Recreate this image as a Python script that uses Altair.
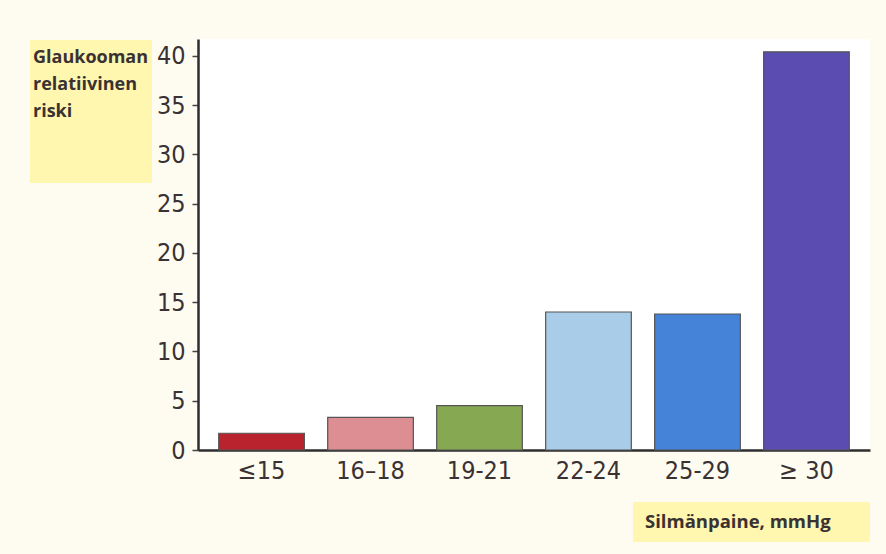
import altair as alt
import pandas as pd

categories = ["≤15", "16–18", "19-21", "22-24", "25-29", "≥ 30"]
values = [1.7, 3.3, 4.5, 14.0, 13.8, 40.4]
colors = ["#b8232e", "#dc8e92", "#86a852", "#a9cde9", "#4583d9", "#5a4cb0"]
y_ticks = [0, 5, 10, 15, 20, 25, 30, 35, 40]
y_title = "Glaukooman\nrelatiivinen\nriski"
x_title = "Silmänpaine, mmHg"

df = pd.DataFrame({"cat": categories, "val": values, "col": colors})

W, H = 672, 411
TXT = "#3a3232"
FONT = "DejaVu Sans Condensed"

bars = alt.Chart(df).mark_bar(stroke="#555555", strokeWidth=1.2).encode(
    x=alt.X("cat:N", sort=categories,
            scale=alt.Scale(paddingInner=0.214, paddingOuter=0.19),
            axis=alt.Axis(title=None, labelAngle=0, ticks=False,
                          labelFontSize=25, labelFont=FONT, labelColor=TXT,
                          labelPadding=8, domainColor="#2e2e2e", domainWidth=2.5)),
    y=alt.Y("val:Q", scale=alt.Scale(domain=[0, 41.7], nice=False),
            axis=alt.Axis(title=None, values=y_ticks, grid=False,
                          labelFontSize=25, labelFont=FONT, labelColor=TXT,
                          tickColor="#444444", tickSize=6, tickWidth=1.5,
                          labelPadding=7, domainColor="#2e2e2e", domainWidth=2.5)),
    color=alt.Color("col:N", scale=None),
)

box1 = alt.Chart(pd.DataFrame({"a": [0]})).mark_rect(color="#fff6b0").encode(
    x=alt.value(-168), x2=alt.value(-46), y=alt.value(1), y2=alt.value(144))
t1 = alt.Chart(pd.DataFrame({"t": [y_title]})).mark_text(
    align="left", baseline="middle", font="Open Sans", fontWeight="bold",
    fontSize=18, color=TXT, lineBreak="\n", lineHeight=27
).encode(x=alt.value(-165), y=alt.value(19), text="t:N")

box2 = alt.Chart(pd.DataFrame({"a": [0]})).mark_rect(color="#fff6b0").encode(
    x=alt.value(435), x2=alt.value(672), y=alt.value(463), y2=alt.value(503))
t2 = alt.Chart(pd.DataFrame({"t": [x_title]})).mark_text(
    align="left", baseline="middle", font="Open Sans", fontWeight="bold",
    fontSize=18.5, color=TXT
).encode(x=alt.value(447), y=alt.value(483), text="t:N")

chart = alt.layer(box1, box2, bars, t1, t2).properties(
    width=W, height=H,
    background="#fefcf1",
    padding={"left": 198, "top": 39, "right": 16, "bottom": 104},
    autosize=alt.AutoSizeParams(type="none"),
).configure_view(fill="#ffffff", stroke=None)

chart.save("out.html", embed_options={"renderer": "svg", "actions": False})
